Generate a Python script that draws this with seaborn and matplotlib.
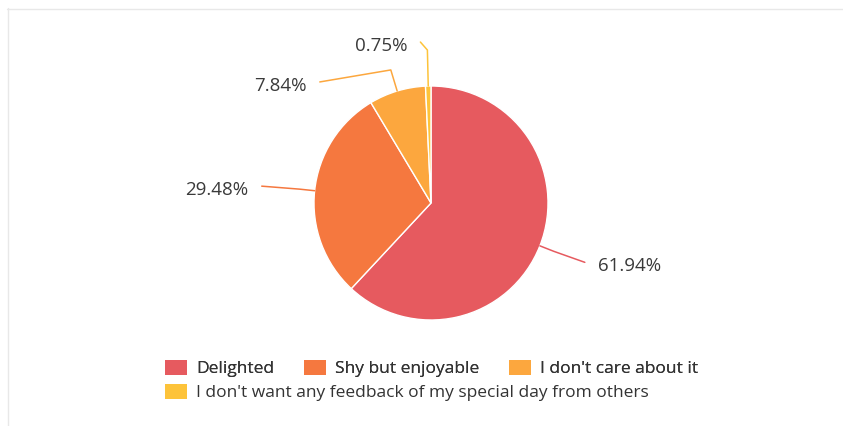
import numpy as np
import matplotlib
matplotlib.use("Agg")
import matplotlib.pyplot as plt
import seaborn as sns
from matplotlib.patches import Patch
from matplotlib.lines import Line2D

# ---- data ----
categories = ["Delighted", "Shy but enjoyable", "I don't care about it",
              "I don't want any feedback of my special day from others"]
percentages = [61.94, 29.48, 7.84, 0.75]
label_texts = ["61.94%", "29.48%", "7.84%", "0.75%"]
colors = ["#e65a5f", "#f5783f", "#fca73e", "#fdc33a"]

# ---- layout (style only) ----
W, H = 843, 426
label_ext = [15, 15, 22, 36]                       # radial leader length (px)
label_seg = [(31, 11), (-38, -3), (-71, 12), (-7, -8)]  # second segment (px, y down)
text_gap = 13
text_dy = 4

sns.set_theme(style="white")
plt.rcParams["font.family"] = ["Open Sans", "DejaVu Sans"]

fig = plt.figure(figsize=(W / 100, H / 100), dpi=100)
fig.patch.set_facecolor("white")
ax = fig.add_axes([0, 0, 1, 1])

cx, cy, R = 431, H - 203, 117
wedges, _ = ax.pie(percentages, colors=colors, startangle=90, counterclock=False,
                   center=(cx, cy), radius=R,
                   wedgeprops=dict(edgecolor="white", linewidth=1))
ax.set_xlim(0, W)
ax.set_ylim(0, H)
ax.set_aspect("equal")
ax.axis("off")

for w, txt, col, ext, (dx, dy) in zip(wedges, label_texts, colors, label_ext, label_seg):
    ang = np.deg2rad((w.theta1 + w.theta2) / 2)
    p0 = (cx + R * np.cos(ang), cy + R * np.sin(ang))
    p1 = (cx + (R + ext) * np.cos(ang), cy + (R + ext) * np.sin(ang))
    p2 = (p1[0] + dx, p1[1] - dy)
    ax.plot([p0[0], p1[0], p2[0]], [p0[1], p1[1], p2[1]], color=col, lw=1.1,
            solid_joinstyle="round")
    right = dx > 0
    ax.text(p2[0] + (text_gap if right else -text_gap), p2[1] - text_dy, txt,
            ha="left" if right else "right", va="center", fontsize=13.5,
            color="#3a3a3a")

# legend
fs = 12.5
handles = [Patch(facecolor=c, edgecolor="none") for c in colors]
common = dict(loc="upper left", frameon=False, fontsize=fs, handlelength=1.26,
              handleheight=0.92, handletextpad=0.52, borderpad=0,
              borderaxespad=0, labelcolor="#333333")
leg1 = fig.legend(handles[:3], categories[:3], ncol=3,
                  bbox_to_anchor=(165 / W, 1 - 360 / H), columnspacing=1.72,
                  **common)
leg2 = fig.legend(handles[3:], categories[3:], ncol=1,
                  bbox_to_anchor=(165 / W, 1 - 384 / H), **common)
fig.add_artist(leg1)

# thin frame lines on top and left
fig.add_artist(Line2D([7 / W, 1], [1 - 8.5 / H, 1 - 8.5 / H], transform=fig.transFigure,
                      color="#e8e8e8", lw=1))
fig.add_artist(Line2D([7.5 / W, 7.5 / W], [0, 1 - 8 / H], transform=fig.transFigure,
                      color="#e8e8e8", lw=1))

fig.savefig("out.png", dpi=100, facecolor="white")
